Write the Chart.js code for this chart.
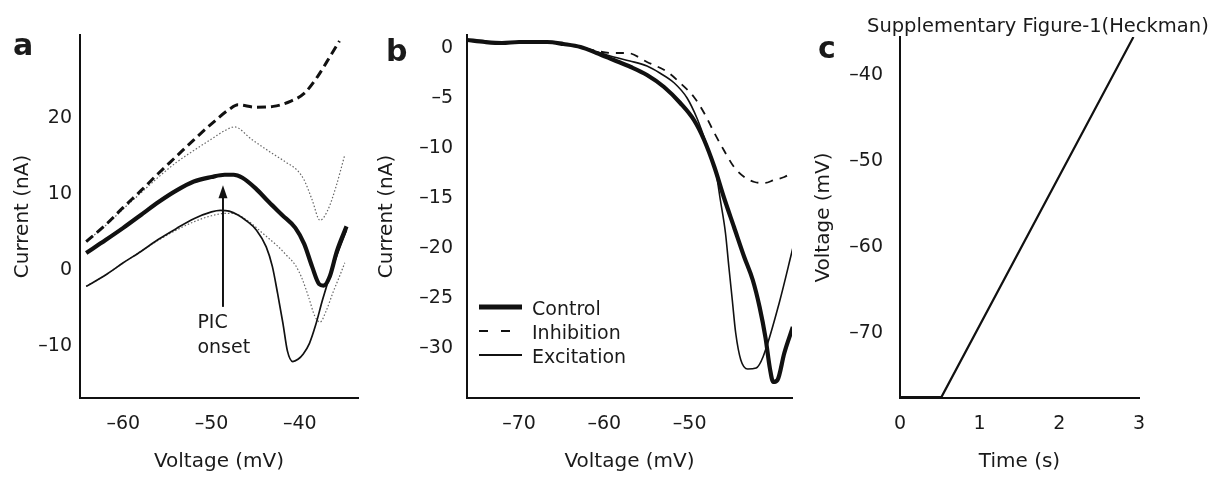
<!DOCTYPE html>
<html>
<head>
<meta charset="utf-8">
<script src="https://cdn.jsdelivr.net/npm/chart.js@4.4.1/dist/chart.umd.min.js"></script>
<style>
  body { margin: 0; background: #fff; }
  #fig { position: relative; width: 1214px; height: 479px; overflow: hidden; background: #fff;
         font-family: "DejaVu Sans", sans-serif; color: #1a1a1a; }
  #fig canvas { position: absolute; top: 0; }
  .letter { position: absolute; font-weight: bold; font-size: 30px; line-height: 1; }
  #title { position: absolute; left: 867px; top: 16px; font-size: 19.5px; line-height: 1; white-space: nowrap; }
</style>
</head>
<body>
<div id="fig">
  <canvas id="chartA" width="375" height="479" style="left:0"></canvas>
  <canvas id="chartB" width="435" height="479" style="left:375px"></canvas>
  <canvas id="chartC" width="404" height="479" style="left:810px"></canvas>
  <div class="letter" style="left:13px;top:30px">a</div>
  <div class="letter" style="left:386px;top:36px">b</div>
  <div class="letter" style="left:818px;top:33px">c</div>
  <div id="title">Supplementary Figure-1(Heckman)</div>
</div>
<script>
// ---- panel a : current (nA) vs voltage (mV)
const aTicksX = [-60, -50, -40];
const aTicksY = [-10, 0, 10, 20];

const aInhibitionV = [-64.2, -62, -60, -58, -56, -54, -52, -50, -48, -47, -45, -43, -41, -39.5, -38, -36.5, -35.5];
const aInhibitionI = [3.8, 6.0, 8.3, 10.5, 12.8, 15.0, 17.2, 19.3, 21.2, 21.8, 21.5, 21.6, 22.3, 23.3, 25.5, 28.3, 30.2];

const aUpperDotV = [-64.2, -62, -60, -58, -56, -54, -52, -50, -48.5, -47.4, -45.5, -43.5, -41.5, -40.3, -39.5, -38.6, -37.7, -36.8, -35.9, -34.9];
const aUpperDotI = [3.8, 5.9, 8.1, 10.2, 12.3, 14.2, 15.8, 17.3, 18.4, 18.9, 17.3, 15.7, 14.2, 13.2, 11.9, 9.3, 6.6, 8.0, 11.0, 15.2];

const aControlV = [-64.2, -62, -60, -58, -56, -54, -52, -50, -48.5, -47.5, -46.5, -45, -43.5, -42, -40.5, -39.5, -38.6, -37.8, -37.3, -36.6, -35.8, -34.7];
const aControlI = [2.3, 4.0, 5.6, 7.3, 9.0, 10.5, 11.7, 12.3, 12.6, 12.6, 12.2, 10.8, 9.0, 7.3, 5.6, 3.5, 0.5, -1.8, -2.0, -0.8, 2.5, 5.8];

const aExcitationV = [-64.2, -62, -60, -58, -56, -54, -52, -50, -49, -48, -47, -46, -44.9, -43.8, -43.1, -42.5, -41.9, -41.4, -40.8, -40.2, -39.6, -38.9, -38.2, -37.4, -36.5, -35.6, -34.7];
const aExcitationI = [-2.1, -0.6, 1.0, 2.5, 4.1, 5.5, 6.8, 7.7, 7.9, 7.8, 7.3, 6.5, 5.3, 3.1, 0.5, -3.1, -7.0, -10.6, -12.0, -11.7, -11.0, -9.6, -7.2, -3.8, -0.4, 2.6, 5.3];

const aLowerDotV = [-64.2, -62, -60, -58, -56, -54, -52, -50, -48.5, -47.5, -46.5, -45.5, -44.5, -43.5, -42.5, -41.5, -40.5, -39.8, -39.0, -38.3, -37.7, -37.0, -36.2, -35.5, -34.9];
const aLowerDotI = [-2.1, -0.6, 1.0, 2.5, 4.0, 5.3, 6.4, 7.2, 7.5, 7.5, 7.0, 6.2, 5.2, 4.2, 3.2, 2.0, 0.7, -0.9, -3.5, -6.0, -6.8, -5.3, -2.8, -0.8, 1.0];

// PIC onset arrow (data units of panel a)
const picArrowV = -48.7;
const picArrowFrom = -4.8;
const picArrowTo = 11.2;
const picTextV = -51.6;
const picTextI = [-7.6, -10.9];

// ---- panel b
const bTicksX = [-70, -60, -50];
const bTicksY = [-30, -25, -20, -15, -10, -5, 0];

const bControlV = [-76.1, -74, -72, -70, -68, -66.7, -64.8, -62.8, -60.9, -58.9, -56.9, -55.0, -53.0, -51.1, -49.5, -48.3, -47.1, -46.0, -44.8, -43.6, -42.6, -41.8, -41.1, -40.6, -40.2, -39.7, -38.9, -37.9];
const bControlI = [0.8, 0.6, 0.5, 0.6, 0.6, 0.6, 0.4, 0.1, -0.5, -1.2, -1.9, -2.7, -3.9, -5.5, -7.2, -9.2, -11.9, -14.9, -17.9, -20.9, -23.2, -25.9, -29.0, -32.0, -33.4, -33.2, -30.5, -27.9];

const bInhibitionV = [-76.1, -72, -68, -64.8, -62.8, -60.9, -58.9, -57.3, -55.0, -52.6, -51.1, -49.5, -48.3, -47.1, -46.0, -44.8, -43.6, -42.4, -41.2, -40.1, -38.9, -37.9];
const bInhibitionI = [0.8, 0.5, 0.6, 0.4, 0.1, -0.3, -0.5, -0.5, -1.4, -2.4, -3.5, -4.9, -6.5, -8.5, -10.2, -11.9, -12.9, -13.4, -13.5, -13.2, -12.9, -12.4];

const bExcitationV = [-76.1, -72, -68, -64.8, -62.8, -60.9, -58.9, -57, -55.0, -53.5, -51.8, -50.3, -49.1, -47.9, -46.9, -46.4, -45.8, -45.4, -45.0, -44.6, -44.0, -43.2, -42.2, -41.4, -39.5, -37.9];
const bExcitationI = [0.8, 0.5, 0.6, 0.4, 0.1, -0.4, -0.9, -1.3, -1.8, -2.5, -3.5, -5.0, -7.1, -9.9, -12.5, -15.2, -18.5, -21.9, -25.2, -28.5, -31.2, -32.1, -32.0, -30.9, -25.5, -20.0];

const bLegendLabels = ["Control", "Inhibition", "Excitation"];

// ---- panel c : voltage ramp
const cTicksX = [0, 1, 2, 3];
const cTicksY = [-70, -60, -50, -40];
const cTime = [0, 0.52, 2.93];
const cVoltage = [-77.5, -77.5, -35.6];

const textColor = "#1a1a1a";
const lineColor = "#111";
const tickFont = { family: "'DejaVu Sans', sans-serif", size: 19 };
const titleFont = { family: "'DejaVu Sans', sans-serif", size: 20 };

function pts(xs, ys) {
  return xs.map((x, i) => ({ x: x, y: ys[i] }));
}

function dashMinus(v) {
  return v < 0 ? "\u2013" + Math.abs(v) : String(v);
}

function line(label, xs, ys, width, dash, color) {
  return {
    label: label,
    data: pts(xs, ys),
    borderColor: color || lineColor,
    borderWidth: width,
    borderDash: dash || [],
    pointRadius: 0,
    fill: false,
    cubicInterpolationMode: "monotone",
  };
}

function makeScales(s) {
  return {
    x: {
      type: "linear",
      min: s.xMin,
      max: s.xMax,
      grid: { display: false, drawTicks: false },
      border: { display: true, color: lineColor, width: 2 },
      afterBuildTicks: (scale) => { scale.ticks = s.xTicks.map((v) => ({ value: v })); },
      afterFit: (scale) => { scale.height = s.xHeight; },
      ticks: { font: tickFont, color: textColor, padding: s.xPad, maxRotation: 0, autoSkip: false, callback: dashMinus },
      title: { display: true, text: s.xTitle, font: titleFont, color: textColor, padding: { top: 0, bottom: s.xTitlePad } },
    },
    y: {
      type: "linear",
      min: s.yMin,
      max: s.yMax,
      grid: { display: false, drawTicks: false },
      border: { display: true, color: lineColor, width: 2 },
      afterBuildTicks: (scale) => { scale.ticks = s.yTicks.map((v) => ({ value: v })); },
      afterFit: (scale) => { scale.width = s.yWidth; },
      ticks: { font: tickFont, color: textColor, padding: s.yPad, autoSkip: false, callback: dashMinus },
      title: { display: true, text: s.yTitle, font: titleFont, color: textColor, padding: { top: s.yTitlePad, bottom: 0 } },
    },
  };
}

function baseOptions(pad, scales, extra) {
  return {
    responsive: false,
    animation: false,
    devicePixelRatio: 1,
    events: [],
    layout: { padding: pad },
    scales: scales,
    plugins: Object.assign({ legend: { display: false }, tooltip: { enabled: false } }, extra || {}),
  };
}

// arrow + "PIC onset" label, placed in data units
const picPlugin = {
  id: "picOnset",
  afterDatasetsDraw(chart) {
    const { ctx } = chart;
    const x = chart.scales.x, y = chart.scales.y;
    const px = x.getPixelForValue(picArrowV);
    const tail = y.getPixelForValue(picArrowFrom);
    const tip = y.getPixelForValue(picArrowTo);
    ctx.save();
    ctx.strokeStyle = lineColor;
    ctx.fillStyle = lineColor;
    ctx.lineWidth = 2;
    ctx.beginPath();
    ctx.moveTo(px, tail);
    ctx.lineTo(px, tip + 8);
    ctx.stroke();
    ctx.beginPath();
    ctx.moveTo(px, tip);
    ctx.lineTo(px - 4.5, tip + 13);
    ctx.lineTo(px + 4.5, tip + 13);
    ctx.closePath();
    ctx.fill();
    ctx.fillStyle = textColor;
    ctx.font = "19px 'DejaVu Sans', sans-serif";
    ctx.textAlign = "left";
    ctx.textBaseline = "alphabetic";
    const tx = x.getPixelForValue(picTextV);
    ctx.fillText("PIC", tx, y.getPixelForValue(picTextI[0]));
    ctx.fillText("onset", tx, y.getPixelForValue(picTextI[1]));
    ctx.restore();
  },
};

// legend drawn inside the plot area, lower left
const insideLegend = {
  id: "insideLegend",
  afterDatasetsDraw(chart, args, opts) {
    const { ctx, chartArea } = chart;
    ctx.save();
    ctx.font = "19px 'DejaVu Sans', sans-serif";
    ctx.textAlign = "left";
    ctx.textBaseline = "alphabetic";
    chart.data.datasets.forEach((ds, i) => {
      const base = chartArea.bottom - opts.firstBaseline + i * opts.row;
      const x0 = chartArea.left + opts.left;
      ctx.strokeStyle = ds.borderColor;
      ctx.lineWidth = opts.widths[i];
      ctx.setLineDash(opts.dashes[i]);
      ctx.beginPath();
      ctx.moveTo(x0, base - 8);
      ctx.lineTo(x0 + opts.length, base - 8);
      ctx.stroke();
      ctx.setLineDash([]);
      ctx.fillStyle = textColor;
      ctx.fillText(ds.label, chartArea.left + opts.textLeft, base);
    });
    ctx.restore();
  },
};

new Chart(document.getElementById("chartA"), {
  type: "line",
  data: {
    datasets: [
      line("Inhibition", aInhibitionV, aInhibitionI, 3, [9, 5]),
      line("Upper dotted", aUpperDotV, aUpperDotI, 1.2, [1.5, 2], "#666"),
      line("Control", aControlV, aControlI, 4.2),
      line("Excitation", aExcitationV, aExcitationI, 1.7),
      line("Lower dotted", aLowerDotV, aLowerDotI, 1.2, [1.5, 2], "#666"),
    ],
  },
  options: baseOptions(
    { top: 35, right: 17, bottom: 0, left: 0 },
    makeScales({
      xMin: -64.9, xMax: -33.4, xTicks: aTicksX, xHeight: 81, xPad: 15, xTitle: "Voltage (mV)", xTitlePad: 5,
      yMin: -16.8, yMax: 31.0, yTicks: aTicksY, yWidth: 80, yPad: 8, yTitle: "Current (nA)", yTitlePad: 11,
    })
  ),
  plugins: [picPlugin],
});

new Chart(document.getElementById("chartB"), {
  type: "line",
  data: {
    datasets: [
      line(bLegendLabels[0], bControlV, bControlI, 4.2),
      line(bLegendLabels[1], bInhibitionV, bInhibitionI, 1.8, [8, 7]),
      line(bLegendLabels[2], bExcitationV, bExcitationI, 1.6),
    ],
  },
  options: baseOptions(
    { top: 35, right: 18, bottom: 0, left: 0 },
    makeScales({
      xMin: -76.1, xMax: -38.0, xTicks: bTicksX, xHeight: 81, xPad: 15, xTitle: "Voltage (mV)", xTitlePad: 5,
      yMin: -35.0, yMax: 1.3, yTicks: bTicksY, yWidth: 92, yPad: 14, yTitle: "Current (nA)", yTitlePad: 0,
    }),
    {
      insideLegend: {
        left: 12, length: 43, textLeft: 65, firstBaseline: 83, row: 24,
        widths: [5, 1.8, 1.8], dashes: [[], [9, 13], []],
      },
    }
  ),
  plugins: [insideLegend],
});

const cRamp = line("Command voltage", cTime, cVoltage, 2.2);
cRamp.cubicInterpolationMode = "default";
cRamp.tension = 0;

new Chart(document.getElementById("chartC"), {
  type: "line",
  data: { datasets: [cRamp] },
  options: baseOptions(
    { top: 37, right: 75, bottom: 0, left: 0 },
    makeScales({
      xMin: 0, xMax: 3, xTicks: cTicksX, xHeight: 81, xPad: 15, xTitle: "Time (s)", xTitlePad: 5,
      yMin: -77.6, yMax: -35.6, yTicks: cTicksY, yWidth: 90, yPad: 17, yTitle: "Voltage (mV)", yTitlePad: 2,
    })
  ),
});
</script>
</body>
</html>
